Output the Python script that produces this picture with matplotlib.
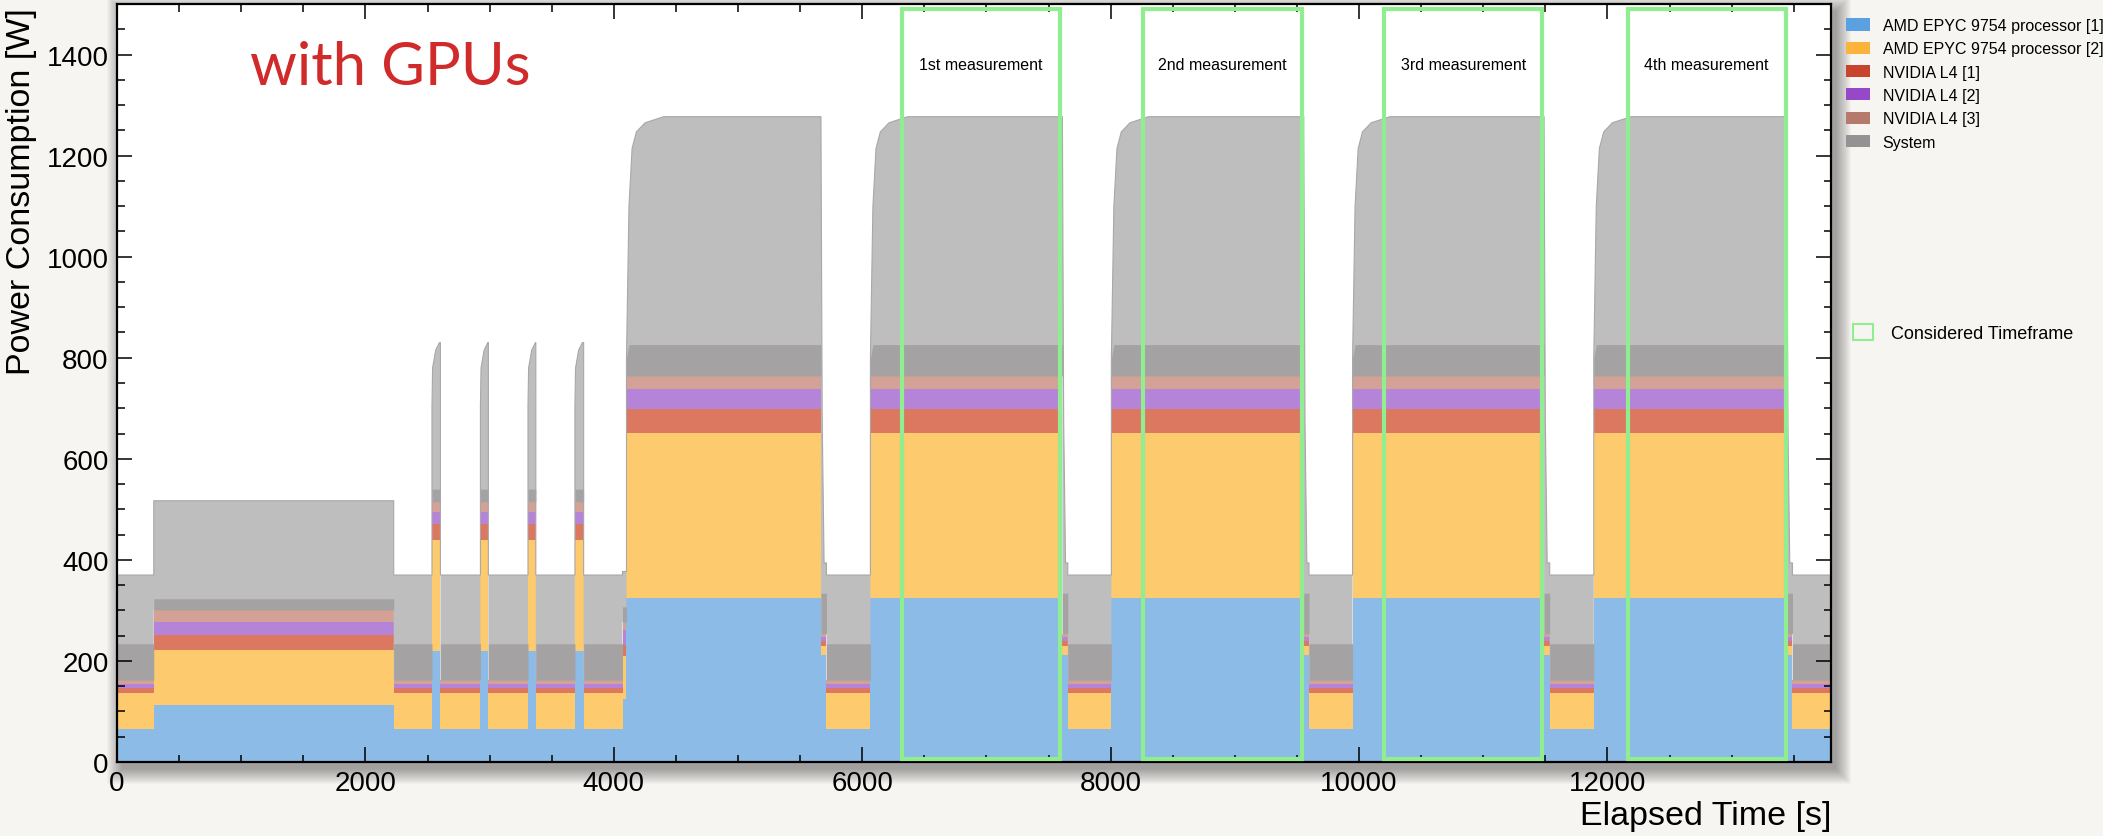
import numpy as np
import matplotlib.pyplot as plt
from matplotlib.patches import Patch, Rectangle
from matplotlib.ticker import MultipleLocator

plt.rcParams['font.family'] = ['Liberation Sans', 'DejaVu Sans']

# what the node was doing: start of each segment [s] and its state
seg_start = [0, 296, 2228, 2536, 2604, 2926, 2990, 3309, 3372, 3687, 3757, 4070, 4102,
             5668, 5712, 6066, 7612, 7655, 8006, 9555, 9597, 9948, 11490, 11535,
             11890, 13443, 13490]
seg_state = ['idle', 'load', 'idle', 'spike', 'idle', 'spike', 'idle', 'spike', 'idle',
             'spike', 'idle', 'pre', 'full', 'drop', 'idle', 'full', 'drop', 'idle',
             'full', 'drop', 'idle', 'full', 'drop', 'idle', 'full', 'drop', 'idle']
t_end = 13800

# mean power per state [W]
cpu1_w = {'idle': 65, 'load': 113, 'spike': 220, 'pre': 125, 'full': 325, 'drop': 211}
cpu2_w = {'idle': 72, 'load': 108, 'spike': 220, 'pre': 85, 'full': 327, 'drop': 18}
gpu1_w = {'idle': 10, 'load': 30, 'spike': 30, 'pre': 22, 'full': 47, 'drop': 10}
gpu2_w = {'idle': 8, 'load': 27, 'spike': 25, 'pre': 30, 'full': 40, 'drop': 8}
gpu3_w = {'idle': 7, 'load': 23, 'spike': 20, 'pre': 15, 'full': 25, 'drop': 7}
system_w = {'idle': 208, 'load': 216, 'spike': 315, 'pre': 100, 'full': 513, 'drop': 140}

# system power while it settles after a state change: seconds after start, watts
system_ramp = {
    'full': ([0, 20, 45, 80, 150, 300], [35, 335, 450, 483, 501, 513]),
    'spike': ([0, 5, 30, 60], [190, 265, 300, 315]),
    'drop': ([0, 10, 25], [1000, 420, 140]),
}
# spread of the system reading just above the GPUs [W]
system_spread = {'idle': 72, 'load': 22, 'spike': 25, 'pre': 30, 'full': 62, 'drop': 80}

# considered measurement windows [s]
box_start = [6318, 8258, 10200, 12163]
box_end = [7589, 9537, 11477, 13435]
box_names = ['1st measurement', '2nd measurement', '3rd measurement', '4th measurement']

names = ['AMD EPYC 9754 processor [1]', 'AMD EPYC 9754 processor [2]',
         'NVIDIA L4 [1]', 'NVIDIA L4 [2]', 'NVIDIA L4 [3]', 'System']
fill_colors = ['#8bbbe6', '#fdca6e', '#dc7860', '#b584d9', '#d3a195', '#bebebe']
legend_colors = ['#5ba1e2', '#fbb33b', '#c8442c', '#9549c6', '#b57a6b', '#939393']
levels = [cpu1_w, cpu2_w, gpu1_w, gpu2_w, gpu3_w]

# expand the segments into knots for the stack
t, spread = [], []
series = [[] for _ in range(6)]
for t0, t1, state in zip(seg_start, seg_start[1:] + [t_end], seg_state):
    dts, sys_vals = system_ramp.get(state, ([0], [system_w[state]]))
    last = sys_vals[0]
    for dt, sv in zip(dts, sys_vals):
        if t0 + dt >= t1:
            break
        t.append(t0 + dt)
        for s, lv in zip(series, levels):
            s.append(lv[state])
        series[5].append(sv)
        spread.append(system_spread[state])
        last = sv
    t.append(t1)
    for s, lv in zip(series, levels):
        s.append(lv[state])
    series[5].append(last)
    spread.append(system_spread[state])

t = np.array(t)
series = [np.array(s, dtype=float) for s in series]
gpu_top = np.sum(series[:5], axis=0)
total = gpu_top + series[5]

fig = plt.figure(figsize=(21.03, 8.37), dpi=100, facecolor='#f7f5f2')
ax = fig.add_axes([117 / 2103, 1 - 763 / 837, 1714 / 2103, 758 / 837])

# soft shadow behind the frame
for i in range(16):
    fig.add_artist(Rectangle(((117 + 5 - i) / 2103, (74 - 7 - i) / 837),
                             (1714 + 2 * i) / 2103, (758 + 2 * i) / 837,
                             transform=fig.transFigure, facecolor='black',
                             edgecolor='none', alpha=0.022, zorder=-5))

ax.stackplot(t, *series, colors=fill_colors, linewidth=0)
ax.fill_between(t, gpu_top, gpu_top + np.minimum(spread, series[5]),
                color='#a4a2a2', linewidth=0)
ax.plot(t, total, color='#a8a8a8', linewidth=0.8)

for x0, x1, label in zip(box_start, box_end, box_names):
    ax.add_patch(Rectangle((x0, 5), x1 - x0, 1485, fill=False,
                           edgecolor='#90ee90', linewidth=3, zorder=4))
    ax.text((x0 + x1) / 2, 1381, label, ha='center', va='center', fontsize=11.5)

ax.text(2199, 1375, 'with GPUs', color='#d02a2a', fontsize=43,
        family=['Lato', 'DejaVu Sans'], ha='center', va='center')

ax.set_xlim(0, 13800)
ax.set_ylim(0, 1500)
ax.xaxis.set_major_locator(MultipleLocator(2000))
ax.xaxis.set_minor_locator(MultipleLocator(500))
ax.yaxis.set_major_locator(MultipleLocator(200))
ax.yaxis.set_minor_locator(MultipleLocator(50))
ax.tick_params(which='both', direction='in', top=True, right=True, width=1.1,
               labelsize=20)
ax.tick_params(which='major', length=11)
ax.tick_params(which='minor', length=5.4)
ax.tick_params(axis='x', pad=6)
ax.tick_params(axis='y', pad=6)
for sp in ax.spines.values():
    sp.set_linewidth(1.6)

ax.set_ylabel('Power Consumption [W]', fontsize=24.5, loc='top')
ax.yaxis.set_label_coords(-0.0465, 0.996)
ax.set_xlabel('Elapsed Time [s]', fontsize=24.5, loc='right')
ax.xaxis.set_label_coords(1.0, -0.05)

handles = [Patch(facecolor=c, edgecolor='none') for c in legend_colors]
fig.legend(handles, names, loc='upper left', bbox_to_anchor=(1846 / 2103, 1 - 19 / 837),
           frameon=False, fontsize=11.5, borderpad=0, borderaxespad=0,
           handlelength=1.5, handleheight=0.8, handletextpad=0.8, labelspacing=0.52)
fig.legend([Patch(facecolor='none', edgecolor='#90ee90', linewidth=1.5)],
           ['Considered Timeframe'], loc='center left',
           bbox_to_anchor=(1853 / 2103, 1 - 334 / 837), frameon=False, fontsize=13,
           borderpad=0, borderaxespad=0, handlelength=1.1, handleheight=1.0,
           handletextpad=1.0)

fig.savefig('out.png', dpi=100, facecolor=fig.get_facecolor())
